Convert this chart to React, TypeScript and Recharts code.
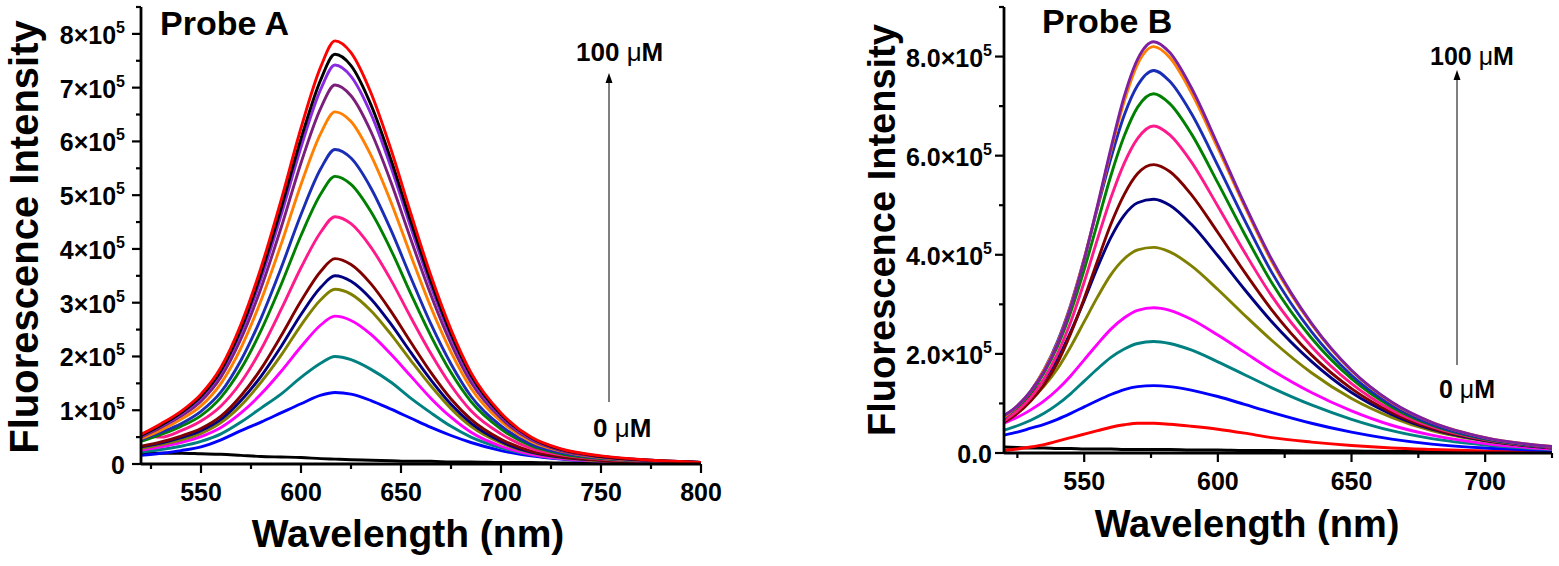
import React from "react";
import { LineChart, Line, XAxis, YAxis } from "recharts";

// Probe A: wavelength (nm) and intensities in units of 1e5
const wlA = [520, 530, 540, 550, 560, 570, 580, 590, 600, 610, 617, 625, 635, 645, 655, 665, 675, 685, 700, 715, 730, 750, 775, 800];
const aBlack0 = [0.20, 0.20, 0.20, 0.19, 0.18, 0.16, 0.14, 0.13, 0.12, 0.10, 0.09, 0.08, 0.07, 0.06, 0.05, 0.05, 0.04, 0.04, 0.03, 0.03, 0.02, 0.02, 0.01, 0.01];
const aBlue = [0.16, 0.20, 0.25, 0.32, 0.45, 0.62, 0.78, 0.95, 1.12, 1.28, 1.33, 1.30, 1.18, 1.02, 0.85, 0.68, 0.53, 0.40, 0.25, 0.15, 0.09, 0.05, 0.02, 0.01];
const aTeal = [0.22, 0.27, 0.33, 0.42, 0.56, 0.78, 1.04, 1.30, 1.61, 1.88, 2.00, 1.94, 1.76, 1.52, 1.22, 0.95, 0.70, 0.50, 0.30, 0.17, 0.10, 0.05, 0.02, 0.01];
const aMagenta = [0.26, 0.32, 0.40, 0.51, 0.68, 0.95, 1.30, 1.72, 2.18, 2.59, 2.75, 2.67, 2.41, 2.04, 1.63, 1.22, 0.87, 0.59, 0.33, 0.18, 0.10, 0.05, 0.02, 0.01];
const aOlive = [0.29, 0.36, 0.45, 0.57, 0.77, 1.09, 1.52, 2.02, 2.58, 3.06, 3.25, 3.16, 2.85, 2.41, 1.92, 1.45, 1.03, 0.70, 0.39, 0.21, 0.12, 0.06, 0.03, 0.01];
const aNavy = [0.32, 0.39, 0.49, 0.62, 0.83, 1.18, 1.63, 2.18, 2.78, 3.29, 3.50, 3.40, 3.07, 2.60, 2.07, 1.56, 1.11, 0.76, 0.42, 0.22, 0.13, 0.07, 0.03, 0.01];
const aWine = [0.33, 0.41, 0.52, 0.66, 0.89, 1.27, 1.77, 2.38, 3.03, 3.59, 3.82, 3.71, 3.35, 2.84, 2.26, 1.70, 1.21, 0.83, 0.46, 0.24, 0.14, 0.07, 0.03, 0.02];
const aPink = [0.55, 0.50, 0.62, 0.80, 1.08, 1.52, 2.13, 2.87, 3.65, 4.32, 4.60, 4.47, 4.03, 3.42, 2.72, 2.05, 1.46, 0.99, 0.56, 0.29, 0.17, 0.09, 0.04, 0.02];
const aGreen = [0.42, 0.55, 0.70, 0.90, 1.24, 1.77, 2.48, 3.33, 4.25, 5.03, 5.35, 5.20, 4.69, 3.98, 3.16, 2.38, 1.70, 1.16, 0.65, 0.34, 0.19, 0.10, 0.05, 0.02];
const aRoyal = [0.45, 0.59, 0.75, 0.98, 1.34, 1.93, 2.71, 3.64, 4.64, 5.50, 5.85, 5.69, 5.13, 4.35, 3.46, 2.60, 1.86, 1.26, 0.71, 0.37, 0.21, 0.11, 0.05, 0.02];
const aOrange = [0.47, 0.63, 0.83, 1.08, 1.50, 2.16, 3.04, 4.08, 5.20, 6.16, 6.55, 6.37, 5.74, 4.87, 3.87, 2.91, 2.08, 1.41, 0.79, 0.42, 0.24, 0.12, 0.06, 0.03];
const aPurple = [0.50, 0.68, 0.89, 1.17, 1.62, 2.33, 3.27, 4.39, 5.60, 6.63, 7.05, 6.85, 6.18, 5.24, 4.17, 3.14, 2.24, 1.52, 0.85, 0.45, 0.25, 0.13, 0.06, 0.03];
const aViolet = [0.52, 0.71, 0.93, 1.23, 1.70, 2.45, 3.44, 4.62, 5.89, 6.98, 7.42, 7.21, 6.51, 5.52, 4.39, 3.30, 2.36, 1.60, 0.90, 0.47, 0.27, 0.14, 0.07, 0.03];
const aBlack = [0.53, 0.72, 0.95, 1.26, 1.74, 2.51, 3.54, 4.75, 6.05, 7.16, 7.62, 7.41, 6.68, 5.66, 4.50, 3.39, 2.42, 1.65, 0.92, 0.49, 0.27, 0.14, 0.07, 0.03];
const aRed = [0.55, 0.75, 0.98, 1.30, 1.80, 2.60, 3.65, 4.90, 6.25, 7.40, 7.87, 7.65, 6.90, 5.85, 4.65, 3.50, 2.50, 1.70, 0.95, 0.50, 0.28, 0.15, 0.07, 0.03];

// Probe B
const wlB = [520, 525, 530, 535, 540, 545, 550, 555, 560, 565, 570, 576, 582, 590, 600, 610, 620, 635, 650, 665, 680, 700, 725];
const bBlack = [0.12, 0.11, 0.10, 0.10, 0.09, 0.09, 0.08, 0.08, 0.08, 0.07, 0.07, 0.07, 0.07, 0.06, 0.06, 0.05, 0.05, 0.04, 0.04, 0.03, 0.03, 0.02, 0.02];
const bRed = [0.05, 0.08, 0.12, 0.17, 0.24, 0.31, 0.38, 0.45, 0.52, 0.57, 0.60, 0.60, 0.58, 0.54, 0.48, 0.40, 0.31, 0.22, 0.15, 0.10, 0.07, 0.04, 0.02];
const bBlue = [0.36, 0.42, 0.50, 0.58, 0.68, 0.80, 0.93, 1.06, 1.18, 1.28, 1.34, 1.36, 1.34, 1.27, 1.14, 0.98, 0.82, 0.60, 0.42, 0.28, 0.18, 0.10, 0.05];
const bTeal = [0.46, 0.55, 0.66, 0.80, 0.98, 1.20, 1.45, 1.70, 1.93, 2.10, 2.21, 2.25, 2.21, 2.08, 1.84, 1.58, 1.32, 0.97, 0.68, 0.45, 0.29, 0.16, 0.07];
const bMagenta = [0.60, 0.72, 0.87, 1.05, 1.28, 1.56, 1.88, 2.20, 2.50, 2.73, 2.88, 2.93, 2.88, 2.70, 2.38, 2.03, 1.68, 1.22, 0.85, 0.56, 0.36, 0.19, 0.08];
const bOlive = [0.72, 0.88, 1.08, 1.35, 1.70, 2.15, 2.65, 3.15, 3.60, 3.92, 4.10, 4.15, 4.06, 3.78, 3.30, 2.78, 2.28, 1.62, 1.10, 0.72, 0.45, 0.24, 0.10];
const bNavy = [0.75, 0.93, 1.16, 1.48, 1.90, 2.45, 3.08, 3.75, 4.35, 4.80, 5.05, 5.12, 5.00, 4.62, 3.98, 3.30, 2.66, 1.85, 1.22, 0.78, 0.48, 0.25, 0.10];
const bWine = [0.62, 0.80, 1.05, 1.38, 1.82, 2.42, 3.12, 3.88, 4.62, 5.22, 5.64, 5.82, 5.68, 5.22, 4.45, 3.65, 2.90, 1.98, 1.30, 0.82, 0.50, 0.26, 0.11];
const bPink = [0.65, 0.85, 1.12, 1.50, 2.00, 2.65, 3.45, 4.32, 5.15, 5.85, 6.35, 6.60, 6.42, 5.88, 4.98, 4.05, 3.18, 2.15, 1.40, 0.87, 0.53, 0.27, 0.11];
const bGreen = [0.72, 0.93, 1.22, 1.62, 2.15, 2.85, 3.70, 4.65, 5.60, 6.40, 6.98, 7.25, 7.05, 6.45, 5.45, 4.42, 3.45, 2.32, 1.50, 0.93, 0.56, 0.28, 0.12];
const bRoyal = [0.70, 0.95, 1.25, 1.68, 2.25, 3.00, 3.92, 4.95, 5.95, 6.82, 7.42, 7.72, 7.50, 6.86, 5.80, 4.70, 3.66, 2.45, 1.57, 0.97, 0.58, 0.29, 0.12];
const bOrange = [0.72, 0.95, 1.25, 1.68, 2.22, 2.98, 3.92, 4.98, 6.10, 7.10, 7.85, 8.20, 7.98, 7.28, 6.15, 4.98, 3.88, 2.60, 1.66, 1.02, 0.62, 0.31, 0.13];
const bPurple = [0.75, 0.95, 1.25, 1.65, 2.20, 2.95, 3.90, 5.00, 6.15, 7.20, 7.95, 8.30, 8.08, 7.38, 6.22, 5.02, 3.92, 2.62, 1.67, 1.03, 0.62, 0.31, 0.13];

// ticks
const xTicksA = [525, 550, 575, 600, 625, 650, 675, 700, 725, 750, 775, 800];
const yTicksA = [0, 0.5, 1, 1.5, 2, 2.5, 3, 3.5, 4, 4.5, 5, 5.5, 6, 6.5, 7, 7.5, 8, 8.5];
const xTicksB = [525, 550, 575, 600, 625, 650, 675, 700, 725];
const yTicksB = [0, 1, 2, 3, 4, 5, 6, 7, 8, 9];

const seriesA = [
  { key: "c0", values: aBlack0, color: "#000000" },
  { key: "c1", values: aBlue, color: "#0000FF" },
  { key: "c2", values: aTeal, color: "#008080" },
  { key: "c3", values: aMagenta, color: "#FF00FF" },
  { key: "c4", values: aOlive, color: "#808000" },
  { key: "c5", values: aNavy, color: "#000080" },
  { key: "c6", values: aWine, color: "#800000" },
  { key: "c7", values: aPink, color: "#FF1A8C" },
  { key: "c8", values: aGreen, color: "#008000" },
  { key: "c9", values: aRoyal, color: "#1A2DB5" },
  { key: "c10", values: aOrange, color: "#FF8000" },
  { key: "c11", values: aPurple, color: "#7B1F7B" },
  { key: "c12", values: aViolet, color: "#8A2BE2" },
  { key: "c13", values: aBlack, color: "#000000" },
  { key: "c14", values: aRed, color: "#FF0000" },
];

const seriesB = [
  { key: "c0", values: bBlack, color: "#000000" },
  { key: "c1", values: bRed, color: "#FF0000" },
  { key: "c2", values: bBlue, color: "#0000FF" },
  { key: "c3", values: bTeal, color: "#008080" },
  { key: "c4", values: bMagenta, color: "#FF00FF" },
  { key: "c5", values: bOlive, color: "#808000" },
  { key: "c6", values: bNavy, color: "#000080" },
  { key: "c7", values: bWine, color: "#800000" },
  { key: "c8", values: bPink, color: "#FF1A8C" },
  { key: "c9", values: bGreen, color: "#008000" },
  { key: "c10", values: bRoyal, color: "#1A2DB5" },
  { key: "c11", values: bOrange, color: "#FF8000" },
  { key: "c12", values: bPurple, color: "#7D1FA0" },
];

const buildRows = (wl: number[], series: { key: string; values: number[] }[]) =>
  wl.map((w, i) => {
    const row: Record<string, number> = { wl: w };
    series.forEach((s) => (row[s.key] = s.values[i]));
    return row;
  });

const dataA = buildRows(wlA, seriesA);
const dataB = buildRows(wlB, seriesB);

const FONT = "'Liberation Sans', Arial, Helvetica, sans-serif";
const TS = 9;
const TM = 4;

const makeXTick = (labelDy: number) => (props: any) => {
  const { x, y, payload } = props;
  const v = payload.value;
  const major = v % 50 === 0;
  const ay = y - TS - TM;
  return (
    <g>
      <line x1={x} x2={x} y1={ay} y2={ay + (major ? 9 : 5)} stroke="#000" strokeWidth={2.2} />
      {major && (
        <text x={x} y={ay + labelDy} textAnchor="middle" fontFamily={FONT} fontWeight="bold" fontSize={25} fill="#000">
          {v}
        </text>
      )}
    </g>
  );
};

const makeYTick = (isMajor: (v: number) => boolean, decimals: number, gap: number) => (props: any) => {
  const { x, y, payload } = props;
  const v = payload.value;
  const major = isMajor(v);
  const ax = x + TS + TM;
  let label: React.ReactNode = null;
  if (major) {
    if (v === 0) {
      label = decimals ? "0.0" : "0";
    } else {
      label = (
        <>
          {decimals ? v.toFixed(1) : String(v)}×10
          <tspan fontSize={16} dy={-11}>5</tspan>
        </>
      );
    }
  }
  return (
    <g>
      <line x1={ax} x2={ax - (major ? 9 : 5)} y1={y} y2={y} stroke="#000" strokeWidth={2.2} />
      {major && (
        <text x={ax - gap} y={y + 10} textAnchor="end" fontFamily={FONT} fontWeight="bold" fontSize={25} fill="#000">
          {label}
        </text>
      )}
    </g>
  );
};

const axisLine = { stroke: "#000", strokeWidth: 2.8 };

function Panel(props: {
  data: any[];
  series: { key: string; color: string }[];
  width: number;
  margin: any;
  yWidth: number;
  xDomain: [number, number];
  yDomain: [number, number];
  xTicks: number[];
  yTicks: number[];
  yMajor: (v: number) => boolean;
  decimals: number;
  gap: number;
}) {
  return (
    <LineChart width={props.width} height={566} data={props.data} margin={props.margin}>
      <XAxis
        type="number"
        dataKey="wl"
        domain={props.xDomain}
        ticks={props.xTicks}
        interval={0}
        allowDataOverflow
        height={60}
        tickSize={TS}
        tickMargin={TM}
        tickLine={false}
        axisLine={axisLine}
        tick={makeXTick(37)}
      />
      <YAxis
        type="number"
        domain={props.yDomain}
        ticks={props.yTicks}
        interval={0}
        allowDataOverflow
        width={props.yWidth}
        tickSize={TS}
        tickMargin={TM}
        tickLine={false}
        axisLine={axisLine}
        tick={makeYTick(props.yMajor, props.decimals, props.gap)}
      />
      {props.series.map((s) => (
        <Line
          key={s.key}
          type="monotone"
          dataKey={s.key}
          stroke={s.color}
          strokeWidth={2.9}
          dot={false}
          isAnimationActive={false}
        />
      ))}
    </LineChart>
  );
}

function Arrow({ x, y1, y2 }: { x: number; y1: number; y2: number }) {
  return (
    <g>
      <line x1={x} x2={x} y1={y1} y2={y2 + 8} stroke="#555" strokeWidth={1.5} />
      <polygon points={`${x},${y2} ${x - 3.5},${y2 + 10} ${x + 3.5},${y2 + 10}`} fill="#000" />
    </g>
  );
}

function MicroLabel({ x, y, value, size }: { x: number; y: number; value: string; size: number }) {
  return (
    <text x={x} y={y} fontFamily={FONT} fontWeight="bold" fontSize={size} fill="#000">
      {value} <tspan fontWeight="normal">μ</tspan>M
    </text>
  );
}

export default function App() {
  return (
    <div style={{ position: "absolute", left: 0, top: 0, width: 1559, height: 566, background: "#fff" }}>
      <div style={{ position: "absolute", left: 0, top: 0 }}>
        <Panel
          data={dataA}
          series={seriesA}
          width={740}
          margin={{ top: 7, right: 39, bottom: 42, left: 0 }}
          yWidth={141}
          xDomain={[520, 800]}
          yDomain={[0, 8.5]}
          xTicks={xTicksA}
          yTicks={yTicksA}
          yMajor={(v) => Number.isInteger(v)}
          decimals={0}
          gap={16}
        />
      </div>
      <div style={{ position: "absolute", left: 760, top: 0 }}>
        <Panel
          data={dataB}
          series={seriesB}
          width={799}
          margin={{ top: 7, right: 7, bottom: 53, left: 0 }}
          yWidth={244}
          xDomain={[520, 725]}
          yDomain={[0, 9]}
          xTicks={xTicksB}
          yTicks={yTicksB}
          yMajor={(v) => v % 2 === 0}
          decimals={1}
          gap={12}
        />
      </div>
      <svg
        width={1559}
        height={566}
        style={{ position: "absolute", left: 0, top: 0, pointerEvents: "none" }}
      >
        <text x={160} y={35} fontFamily={FONT} fontWeight="bold" fontSize={34} fill="#000">Probe A</text>
        <text x={1042} y={33} fontFamily={FONT} fontWeight="bold" fontSize={34} fill="#000">Probe B</text>

        <text
          transform="translate(38,237) rotate(-90)"
          textAnchor="middle"
          fontFamily={FONT}
          fontWeight="bold"
          fontSize={40}
          fill="#000"
        >
          Fluorescence Intensity
        </text>
        <text
          transform="translate(895,230) rotate(-90)"
          textAnchor="middle"
          fontFamily={FONT}
          fontWeight="bold"
          fontSize={38}
          fill="#000"
        >
          Fluorescence Intensity
        </text>

        <text x={408} y={547} textAnchor="middle" fontFamily={FONT} fontWeight="bold" fontSize={39} fill="#000">
          Wavelength (nm)
        </text>
        <text x={1247} y={537} textAnchor="middle" fontFamily={FONT} fontWeight="bold" fontSize={38} fill="#000">
          Wavelength (nm)
        </text>

        <MicroLabel x={576} y={61} value="100" size={26} />
        <Arrow x={609} y1={402} y2={73} />
        <MicroLabel x={593} y={437} value="0" size={26} />

        <MicroLabel x={1430} y={65} value="100" size={25} />
        <Arrow x={1457} y1={365} y2={70} />
        <MicroLabel x={1439} y={398} value="0" size={25} />
      </svg>
    </div>
  );
}
